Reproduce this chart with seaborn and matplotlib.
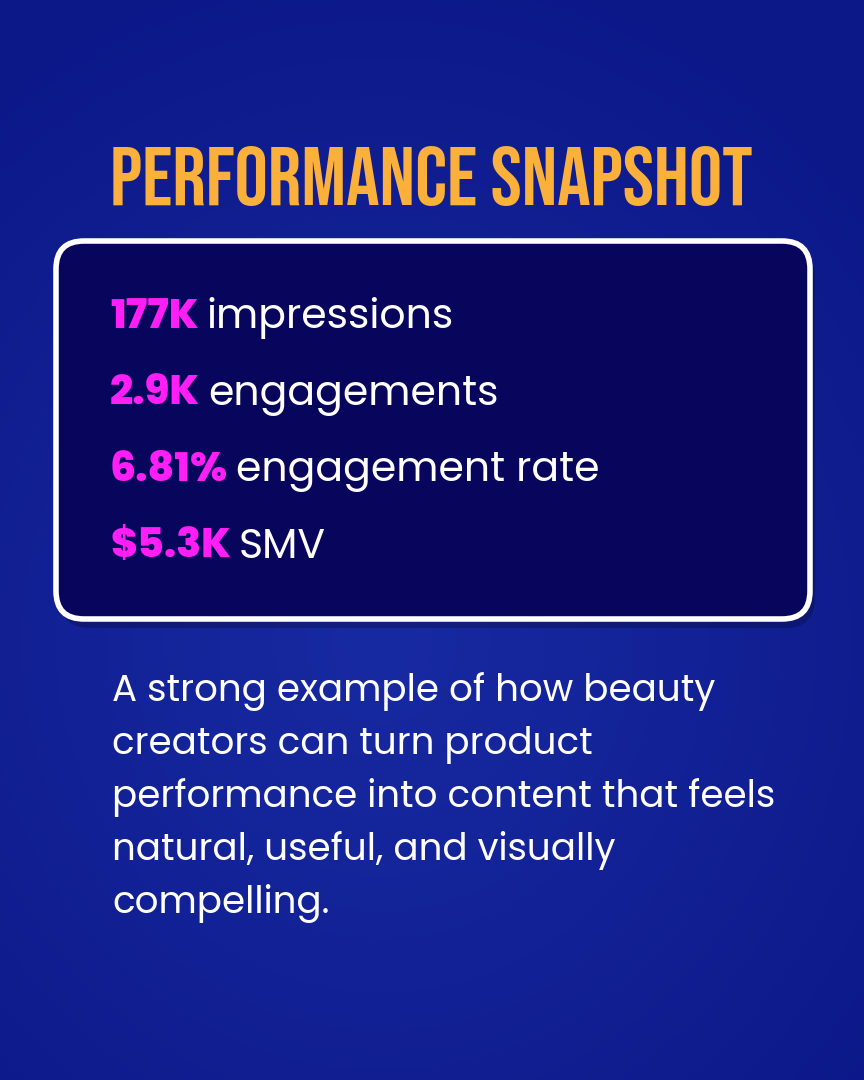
import numpy as np
import matplotlib
matplotlib.use("Agg")
import matplotlib.pyplot as plt
from matplotlib.patches import FancyBboxPatch
import seaborn as sns

# 文案数据
title = "PERFORMANCE SNAPSHOT"
metric_values = ["177K", "2.9K", "6.81%", "$5.3K"]
metric_labels = ["impressions", "engagements", "engagement rate", "SMV"]
body_lines = [
    "A strong example of how beauty",
    "creators can turn product",
    "performance into content that feels",
    "natural, useful, and visually",
    "compelling.",
]

sns.set_theme(style="white")
plt.rcParams["font.family"] = ["Poppins", "Inter", "DejaVu Sans"]

W, H = 864, 1080
fig = plt.figure(figsize=(W / 100, H / 100), dpi=100)
ax = fig.add_axes([0, 0, 1, 1])
ax.set_xlim(0, W)
ax.set_ylim(H, 0)
ax.axis("off")

# 背景渐变（中间偏亮，四周略暗）
yy, xx = np.mgrid[0:H:4, 0:W:4]
r = np.sqrt(((xx - 380) / 650) ** 2 + ((yy - 640) / 700) ** 2)
inner = np.array([24, 42, 162]) / 255
outer = np.array([12, 24, 136]) / 255
k = np.clip(r, 0, 1)[..., None]
img = inner + (outer - inner) * k
ax.imshow(np.clip(img, 0, 1), extent=[0, W, H, 0], zorder=0, aspect="auto")

# 标题
ax.text(431, 176, title, ha="center", va="center", color="#fbb03b",
        fontsize=60, family=["Bebas Neue", "Oswald", "DejaVu Sans"], zorder=3)

# 卡片阴影和卡片
shadow = FancyBboxPatch((60, 248), 755, 380, boxstyle="round,pad=0,rounding_size=30",
                        facecolor="black", edgecolor="none", alpha=0.22, zorder=1)
ax.add_patch(shadow)
card = FancyBboxPatch((56, 241), 754, 378, boxstyle="round,pad=0,rounding_size=28",
                      facecolor="#07065c", edgecolor="white", linewidth=4, zorder=2)
ax.add_patch(card)

# 指标
y0, dy = 328, 76.5
for i, (v, lab) in enumerate(zip(metric_values, metric_labels)):
    num = ax.text(110, y0 + i * dy, v, ha="left", va="baseline", color="#ff1ef5",
                  fontsize=29.5, fontweight=800, zorder=3)
    ax.annotate(lab, xy=(1, 0), xycoords=num, xytext=(6, 0), textcoords="offset points",
                ha="left", va="bottom", color="white", fontsize=29.5, zorder=3)

# 说明文字
for i, line in enumerate(body_lines):
    ax.text(112, 701 + i * 53, line, ha="left", va="baseline", color="white",
            fontsize=26.8, zorder=3)

fig.savefig("out.png", dpi=100)
